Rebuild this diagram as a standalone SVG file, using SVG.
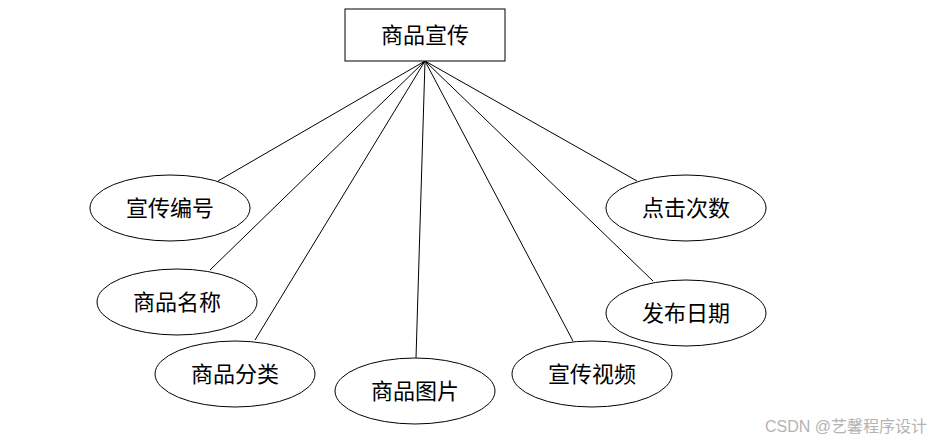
<svg xmlns="http://www.w3.org/2000/svg" width="941" height="441" viewBox="0 0 941 441">
<style>
.shape{fill:#fff;stroke:#000;stroke-width:1}
.lbl{font-family:"Liberation Serif","Noto Sans CJK SC",serif;font-size:22px;fill:#000;text-anchor:middle;dominant-baseline:central}
.edge{stroke:#000;stroke-width:1;fill:none}
.wm{font-family:"Liberation Sans","Noto Sans CJK SC",sans-serif;font-size:16px;fill:#b3b3b3}
</style>
<rect width="941" height="441" fill="#fff"/>
<g id="connectors">
<line class="edge" x1="425" y1="61" x2="218" y2="181"/>
<line class="edge" x1="425" y1="61" x2="210" y2="270"/>
<line class="edge" x1="425" y1="61" x2="255" y2="340"/>
<line class="edge" x1="425" y1="61" x2="416" y2="358"/>
<line class="edge" x1="425" y1="61" x2="573" y2="341"/>
<line class="edge" x1="425" y1="61" x2="653" y2="281"/>
<line class="edge" x1="425" y1="61" x2="637" y2="181"/>
</g>
<g id="n-main"><rect class="shape" x="345" y="9" width="160" height="52"/><text class="lbl" x="425" y="35">商品宣传</text></g>
<g id="n-bh"><ellipse class="shape" cx="170" cy="208" rx="80" ry="33"/><text class="lbl" x="170" y="208">宣传编号</text></g>
<g id="n-mc"><ellipse class="shape" cx="177" cy="302" rx="80" ry="33"/><text class="lbl" x="177" y="302">商品名称</text></g>
<g id="n-fl"><ellipse class="shape" cx="235" cy="374" rx="80" ry="33"/><text class="lbl" x="235" y="374">商品分类</text></g>
<g id="n-tp"><ellipse class="shape" cx="415" cy="391" rx="80" ry="33"/><text class="lbl" x="415" y="391">商品图片</text></g>
<g id="n-sp"><ellipse class="shape" cx="592" cy="374" rx="80" ry="33"/><text class="lbl" x="592" y="374">宣传视频</text></g>
<g id="n-rq"><ellipse class="shape" cx="686" cy="313" rx="80" ry="33"/><text class="lbl" x="686" y="313">发布日期</text></g>
<g id="n-cs"><ellipse class="shape" cx="686" cy="208" rx="80" ry="33"/><text class="lbl" x="686" y="208">点击次数</text></g>
<text class="wm" x="765" y="432">CSDN @艺馨程序设计</text>
</svg>
